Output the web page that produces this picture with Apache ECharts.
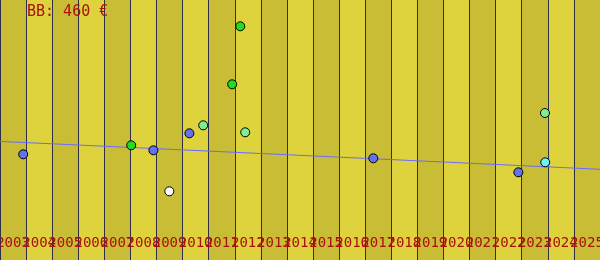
<!DOCTYPE html>
<html>
<head>
<meta charset="utf-8">
<script src="https://cdn.jsdelivr.net/npm/echarts@6/dist/echarts.min.js"></script>
<style>html,body{margin:0;padding:0;background:#c9bd36;}#c{width:600px;height:260px;}</style>
</head>
<body>
<div id="c"></div>
<script>
// Tick labels (one per yearly band)
const years = ['2003','2004','2005','2006','2007','2008','2009','2010','2011','2012','2013','2014','2015','2016','2017','2018','2019','2020','2021','2022','2023','2024','2025'];
// Points: [decimal year, value]
const bluePts = [[2003.39,105.7],[2008.38,109.7],[2009.76,126.7],[2016.81,101.7],[2022.37,87.7]];
const greenPts = [[2007.53,114.7],[2011.40,175.7],[2011.71,233.7]];
const lightGreenPts = [[2010.29,134.7],[2011.90,127.7],[2023.39,147.0]];
const whitePts = [[2008.99,68.7]];
const cyanPts = [[2023.40,97.7]];
// Trend line
const trendPts = [[2002.5,118.6],[2025.5,90.7]];
const titleText = 'BB: 460 €';

const chart = echarts.init(document.getElementById('c'), null, {renderer:'canvas'});
const dot = (name, data, color) => ({
  name, type:'scatter', xAxisIndex:1, data, symbol:'circle', symbolSize:9, z:5,
  itemStyle:{color, borderColor:'#000', borderWidth:1, opacity:1}
});
chart.setOption({
  animation:false,
  backgroundColor:'#c9bd36',
  title:{text:titleText, left:22, top:0, textStyle:{fontFamily:'DejaVu Sans Mono', fontSize:15, fontWeight:'normal', color:'#aa1010'}},
  grid:{left:0,right:0,top:0,bottom:0, containLabel:false, outerBoundsMode:'none'},
  xAxis:[
    {type:'category', data:years, boundaryGap:true, position:'bottom',
     axisLine:{show:false}, axisTick:{show:false},
     axisLabel:{inside:true, interval:0, margin:10, hideOverlap:false, fontFamily:'DejaVu Sans Mono', fontSize:14, color:'#aa1010'},
     splitLine:{show:true, interval:0, lineStyle:{color:'#2e2e48', width:1}},
     splitArea:{show:true, interval:0, areaStyle:{color:['#c9bd36','#ded33c']}}},
    {type:'value', min:2002.5, max:2025.5, show:false}
  ],
  yAxis:{type:'value', min:0, max:260, show:false},
  series:[
    {type:'line', xAxisIndex:1, data:trendPts, symbol:'none', z:3, lineStyle:{color:'#6a6aff', width:1}},
    dot('blue', bluePts, '#6272ec'),
    dot('green', greenPts, '#20dd20'),
    dot('lightgreen', lightGreenPts, '#80ee90'),
    dot('white', whitePts, '#f8f8f8'),
    dot('cyan', cyanPts, '#66f4f4')
  ]
});
</script>
</body>
</html>
